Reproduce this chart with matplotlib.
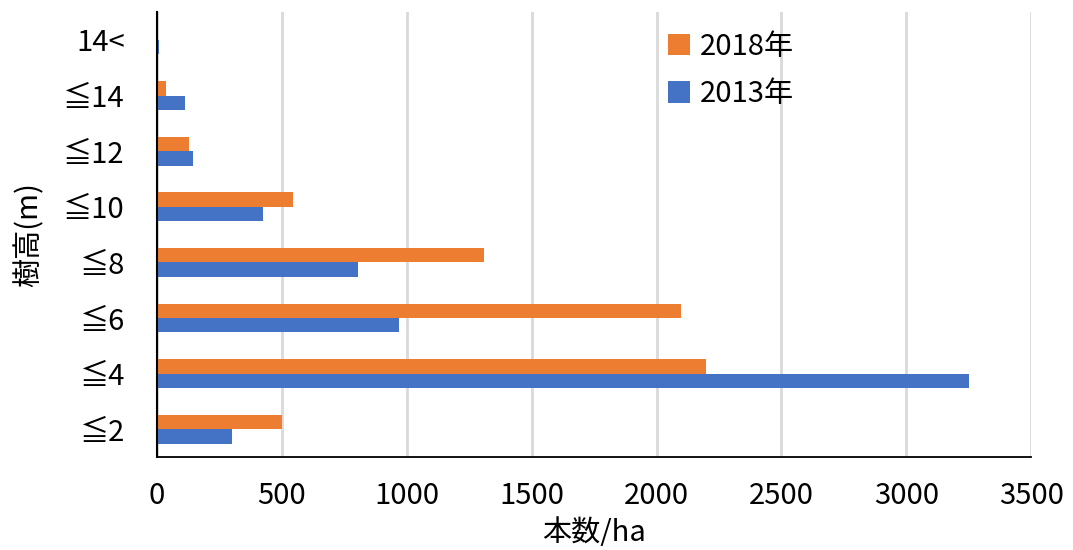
import matplotlib
matplotlib.use("Agg")
import matplotlib.pyplot as plt
import numpy as np

plt.rcParams['font.family'] = ['Noto Sans CJK JP', 'DejaVu Sans']

categories = ["≦2", "≦4", "≦6", "≦8", "≦10", "≦12", "≦14", "14<"]
values_2018 = [500, 2200, 2100, 1310, 545, 130, 35, 0]
values_2013 = [300, 3250, 970, 805, 425, 145, 112, 8]
series_labels = ["2018年", "2013年"]
x_ticks = [0, 500, 1000, 1500, 2000, 2500, 3000, 3500]

color_2018 = "#ED7D31"
color_2013 = "#4472C4"

fig = plt.figure(figsize=(10.73, 5.5), dpi=100)
ax = fig.add_axes([0.1463, 0.169, 0.8147, 0.809])

y = np.arange(len(categories))
h = 0.26
b18 = ax.barh(y + h / 2, values_2018, height=h, color=color_2018, label=series_labels[0])
b13 = ax.barh(y - h / 2, values_2013, height=h, color=color_2013, label=series_labels[1])

ax.set_xlim(0, 3500)
ax.set_ylim(-0.5, len(categories) - 0.5)
ax.set_xticks(x_ticks)
ax.set_xticklabels([str(t) for t in x_ticks], fontsize=21)
ax.set_yticks(y)
ax.set_yticklabels(categories, fontsize=21)
ax.tick_params(axis='both', length=0)
ax.tick_params(axis='x', pad=17)
ax.tick_params(axis='y', pad=23)

ax.grid(axis='x', color='#D9D9D9', linewidth=2)
ax.set_axisbelow(True)
for side in ['top', 'right']:
    ax.spines[side].set_visible(False)
ax.spines['left'].set_linewidth(1.5)
ax.spines['left'].set_color('black')
ax.spines['bottom'].set_linewidth(1.3)
ax.spines['bottom'].set_color('black')

ax.set_xlabel("本数/ha", fontsize=21, labelpad=5)
ax.set_ylabel("樹高(m)", fontsize=21, labelpad=14)

leg = fig.legend(handles=[b18, b13], labels=series_labels, loc='upper left',
                 bbox_to_anchor=(0.598, 0.99), frameon=False, fontsize=21,
                 handlelength=0.75, handleheight=0.75, handletextpad=0.35,
                 labelspacing=0.6)

fig.savefig("out.png", dpi=100, facecolor='white')
